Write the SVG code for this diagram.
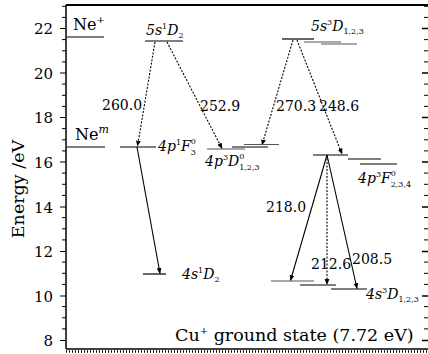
<svg xmlns="http://www.w3.org/2000/svg" width="428" height="354" viewBox="0 0 428 354">
<defs>
<marker id="ah" viewBox="0 0 10 10" refX="9" refY="5" markerWidth="6" markerHeight="6" orient="auto" markerUnits="userSpaceOnUse">
<path d="M0,1 L10,5 L0,9 Z" fill="#000"/>
</marker>
<style>
text{font-family:"DejaVu Serif","Liberation Serif",serif;fill:#000}
.tick{font-size:15px;text-anchor:end}
.num{font-size:14px}
.lab{font-size:14px;font-style:italic}
.sm{font-size:8px;font-style:normal}
.lvl{stroke:#000;stroke-width:1.2;fill:none}
.lvlg{stroke:#555;stroke-width:1;fill:none}
.sol{stroke:#000;stroke-width:1.1;fill:none;marker-end:url(#ah)}
.dot{stroke:#000;stroke-width:1.1;fill:none;stroke-dasharray:2 1.5;marker-end:url(#ah)}
.ax{stroke:#000;fill:none}
</style>
</defs>
<rect width="428" height="354" fill="#fff"/>
<g id="axes">
<line class="ax" x1="66" y1="5" x2="66" y2="349" stroke-width="1.5"/>
<line class="ax" x1="66" y1="5" x2="428" y2="5" stroke-width="1.8"/>
<line class="ax" x1="66" y1="349" x2="428" y2="349" stroke-width="1.5"/>
<line class="ax" x1="66" y1="351.5" x2="428" y2="351.5" stroke-width="2.5" stroke-dasharray="1 2"/>
<path class="ax" stroke-width="1" d="M60,28.5H66M60,73H66M60,117.5H66M60,162H66M60,207H66M60,251.5H66M60,296H66M60,340.5H66"/>
<path class="ax" stroke-width="1" d="M62,6.3H66M62,17.4H66M62,39.6H66M62,50.8H66M62,61.9H66M62,84.1H66M62,95.3H66M62,106.4H66M62,128.6H66M62,139.8H66M62,150.9H66M62,173.1H66M62,184.3H66M62,195.4H66M62,217.6H66M62,228.8H66M62,239.9H66M62,262.1H66M62,273.3H66M62,284.4H66M62,306.6H66M62,317.8H66M62,328.9H66"/>
<path class="ax" stroke-width="1.5" d="M422,28.5H428M422,73H428M422,117.5H428M422,162H428M422,207H428M422,251.5H428M422,296H428M422,340.5H428"/>
<path class="ax" stroke-width="1" d="M424,6.3H428M424,17.4H428M424,39.6H428M424,50.8H428M424,61.9H428M424,84.1H428M424,95.3H428M424,106.4H428M424,128.6H428M424,139.8H428M424,150.9H428M424,173.1H428M424,184.3H428M424,195.4H428M424,217.6H428M424,228.8H428M424,239.9H428M424,262.1H428M424,273.3H428M424,284.4H428M424,306.6H428M424,317.8H428M424,328.9H428"/>
<text class="tick" x="53" y="34">22</text>
<text class="tick" x="53" y="78.5">20</text>
<text class="tick" x="53" y="123">18</text>
<text class="tick" x="53" y="167.5">16</text>
<text class="tick" x="53" y="212.5">14</text>
<text class="tick" x="53" y="257">12</text>
<text class="tick" x="53" y="301.5">10</text>
<text class="tick" x="53" y="346">8</text>
<text x="24" y="189" font-size="17.5" text-anchor="middle" transform="rotate(-90 24 189)">Energy /eV</text>
</g>
<g id="connectors">
<line class="dot" x1="155" y1="42" x2="137.5" y2="146"/>
<line class="dot" x1="167" y1="42" x2="222" y2="148.5"/>
<line class="dot" x1="293" y1="40" x2="262" y2="145"/>
<line class="dot" x1="297" y1="40" x2="342" y2="154"/>
<line class="sol" x1="137" y1="147" x2="160" y2="273.5"/>
<line class="sol" x1="327" y1="155" x2="290.5" y2="280.5"/>
<line class="dot" x1="327" y1="155" x2="327" y2="284.5"/>
<line class="sol" x1="327" y1="155" x2="357" y2="288.5"/>
<text class="num" x="102" y="110">260.0</text>
<text class="num" x="200" y="111">252.9</text>
<text class="num" x="276" y="111">270.3</text>
<text class="num" x="319" y="111">248.6</text>
<text class="num" x="266" y="212">218.0</text>
<text class="num" x="311" y="269">212.6</text>
<text class="num" x="352" y="264">208.5</text>
</g>
<g id="NePlus">
<line class="lvl" x1="67" y1="37" x2="104" y2="37"/>
<text x="73" y="30" font-size="16">Ne<tspan font-size="10" dy="-7">+</tspan></text>
</g>
<g id="NeM">
<line class="lvl" x1="67" y1="147" x2="105" y2="147"/>
<text x="75" y="140" font-size="16">Ne<tspan font-size="11" dy="-7" font-style="italic">m</tspan></text>
</g>
<g id="s5_1D2">
<line class="lvl" x1="145" y1="41" x2="183" y2="41"/>
<text class="lab" x="146" y="35">5s<tspan class="sm" dy="-6">1</tspan><tspan dy="6">D</tspan><tspan class="sm" dy="3">2</tspan></text>
</g>
<g id="p4_1F3">
<line class="lvl" x1="120" y1="147" x2="156" y2="147"/>
<text class="lab" x="158" y="151">4p<tspan class="sm" dy="-6">1</tspan><tspan dy="6">F</tspan><tspan class="sm" dy="-7">0</tspan><tspan class="sm" dx="-5.1" dy="11">3</tspan></text>
</g>
<g id="p4_3D">
<line class="lvlg" x1="207" y1="149" x2="245" y2="149"/>
<line class="lvl" x1="232" y1="147" x2="268" y2="147" stroke-width="1.6"/>
<line class="lvlg" x1="244" y1="144.5" x2="279" y2="144.5"/>
<text class="lab" x="205" y="166">4p<tspan class="sm" dy="-6">3</tspan><tspan dy="6">D</tspan><tspan class="sm" dy="-7">0</tspan><tspan class="sm" dx="-5.1" dy="11">1,2,3</tspan></text>
</g>
<g id="s5_3D">
<line class="lvl" x1="282" y1="39" x2="314" y2="39" stroke-width="1.6"/>
<line class="lvlg" x1="304" y1="42" x2="341" y2="42"/>
<line class="lvlg" x1="321" y1="44" x2="357" y2="44"/>
<text class="lab" x="311" y="31">5s<tspan class="sm" dy="-6">3</tspan><tspan dy="6">D</tspan><tspan class="sm" dy="3">1,2,3</tspan></text>
</g>
<g id="p4_3F">
<line class="lvl" x1="313" y1="155" x2="348" y2="155"/>
<line class="lvl" x1="348" y1="159" x2="381" y2="159"/>
<line class="lvl" x1="360" y1="164" x2="397" y2="164" stroke-width="1.5"/>
<text class="lab" x="358" y="183">4p<tspan class="sm" dy="-6">3</tspan><tspan dy="6">F</tspan><tspan class="sm" dy="-7">0</tspan><tspan class="sm" dx="-5.1" dy="11">2,3,4</tspan></text>
</g>
<g id="s4_1D2">
<line class="lvl" x1="143" y1="274" x2="166" y2="274"/>
<text class="lab" x="182" y="279">4s<tspan class="sm" dy="-6">1</tspan><tspan dy="6">D</tspan><tspan class="sm" dy="3">2</tspan></text>
</g>
<g id="s4_3D">
<line class="lvlg" x1="271" y1="281" x2="314" y2="281"/>
<line class="lvl" x1="300" y1="285" x2="336" y2="285" stroke-width="1.5"/>
<line class="lvl" x1="331" y1="289" x2="367" y2="289" stroke-width="1.5"/>
<text class="lab" x="366" y="299">4s<tspan class="sm" dy="-6">3</tspan><tspan dy="6">D</tspan><tspan class="sm" dy="3">1,2,3</tspan></text>
</g>
<g id="ground">
<text x="175" y="341" font-size="17.5">Cu<tspan font-size="10" dy="-7">+</tspan><tspan dy="7"> ground state (7.72 eV)</tspan></text>
</g>
</svg>
